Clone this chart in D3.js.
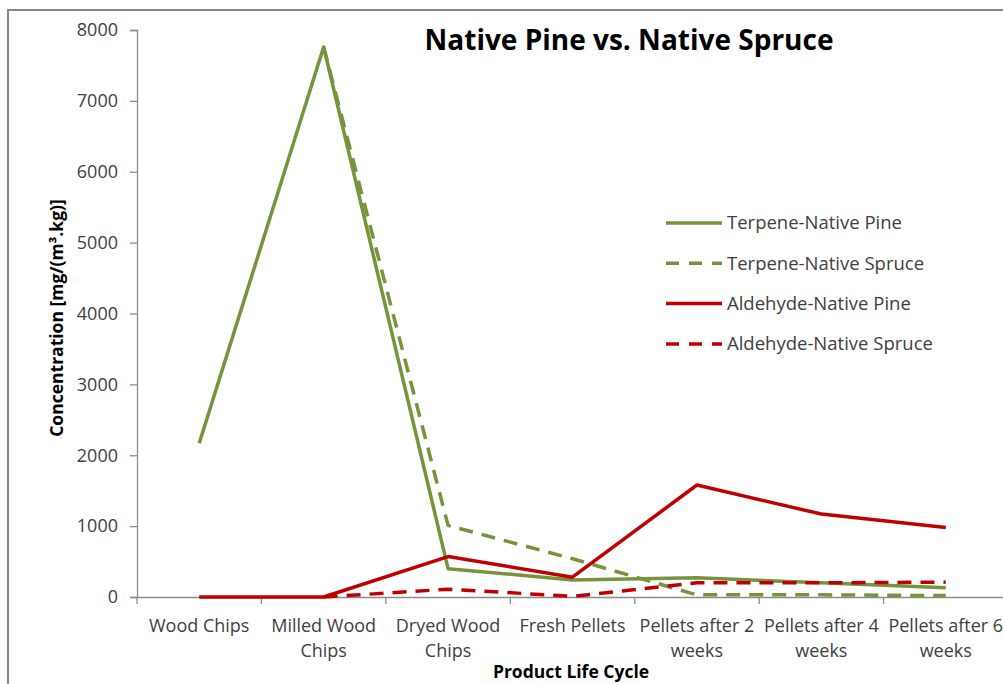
<!DOCTYPE html>
<html><head><meta charset="utf-8">
<script src="https://cdn.jsdelivr.net/npm/d3@7"></script>
<style>
body{margin:0;background:#fff;}
svg{display:block;font-family:"Open Sans",sans-serif;}
</style></head>
<body><svg id="c" width="1003" height="684"></svg>
<script>
const categories = ["Wood Chips","Milled Wood Chips","Dryed Wood Chips","Fresh Pellets","Pellets after 2 weeks","Pellets after 4 weeks","Pellets after 6 weeks"];
const terpenePine    = [2170, 7760, 400, 240, 270, 200, 130];
const terpeneSpruce  = [null, 7760, 1010, 540, 30, 30, 20];
const aldehydePine   = [0, 0, 570, 280, 1580, 1170, 980];
const aldehydeSpruce = [null, 0, 110, 10, 200, 200, 210];
const seriesNames = ["Terpene-Native Pine","Terpene-Native Spruce","Aldehyde-Native Pine","Aldehyde-Native Spruce"];
const yTicks = [0,1000,2000,3000,4000,5000,6000,7000,8000];

const GREEN="#77933C", RED="#C00000", AX="#8c8c8c", TXT="#404040";
const series = [
  {name:seriesNames[0], values:terpenePine, color:GREEN, dash:null},
  {name:seriesNames[1], values:terpeneSpruce, color:GREEN, dash:"14,9"},
  {name:seriesNames[2], values:aldehydePine, color:RED, dash:null},
  {name:seriesNames[3], values:aldehydeSpruce, color:RED, dash:"14,9"}
];

const svg = d3.select("#c");
const L=137, R=1008, T=30, B=597;
const x = d3.scaleBand().domain(categories).range([L,R]);
const y = d3.scaleLinear().domain([0,8000]).range([B,T]);

// outer border
svg.append("rect").attr("x",8).attr("y",10).attr("width",1010).attr("height",700)
  .attr("fill","none").attr("stroke","#868686").attr("stroke-width",2);

// y axis
const ya = svg.append("g").attr("transform",`translate(${L},0)`)
  .call(d3.axisLeft(y).tickValues(yTicks).tickSize(7).tickPadding(12).tickFormat(d3.format("d")));
ya.select(".domain").attr("stroke",AX).attr("stroke-width",1.3);
ya.selectAll(".tick line").attr("stroke",AX).attr("stroke-width",1.3);
ya.selectAll("text").attr("font-size",18).attr("fill",TXT).attr("font-family","Open Sans");

// x axis
const xa = svg.append("g").attr("transform",`translate(0,${B})`)
  .call(d3.axisBottom(x).tickSize(0).tickFormat(""));
xa.select(".domain").attr("stroke",AX).attr("stroke-width",1.3);
xa.selectAll(".tick").remove();
const bounds = categories.map((c,i)=>x(c)).concat([R]);
xa.selectAll("line.bt").data(bounds).enter().append("line").attr("class","bt")
  .attr("x1",d=>d).attr("x2",d=>d).attr("y1",0).attr("y2",7).attr("stroke",AX).attr("stroke-width",1.3);

// x labels with wrapping
const maxW = x.bandwidth();
const lab = svg.append("g").attr("font-size",18).attr("fill",TXT).attr("text-anchor","middle");
categories.forEach(c=>{
  const t = lab.append("text").attr("x",x(c)+x.bandwidth()/2).attr("y",632);
  const words = c.split(" ");
  let lines=[], cur="";
  const probe = lab.append("text").attr("visibility","hidden");
  words.forEach(w=>{
    const test = cur?cur+" "+w:w;
    probe.text(test);
    if(probe.node().getComputedTextLength()>maxW && cur){lines.push(cur);cur=w;} else cur=test;
  });
  lines.push(cur); probe.remove();
  lines.forEach((ln,i)=>t.append("tspan").attr("x",x(c)+x.bandwidth()/2).attr("dy",i?25:0).text(ln));
});

// lines
const line = d3.line().defined(d=>d.v!=null).x(d=>x(d.c)+x.bandwidth()/2).y(d=>y(d.v));
series.forEach(s=>{
  svg.append("path").datum(categories.map((c,i)=>({c,v:s.values[i]})))
    .attr("d",line).attr("fill","none").attr("stroke",s.color).attr("stroke-width",3.5)
    .attr("stroke-dasharray",s.dash).attr("stroke-linejoin","round");
});

// title
svg.append("text").attr("x",629).attr("y",50).attr("text-anchor","middle")
  .attr("font-size",28).attr("font-weight","bold").attr("fill","#000").text("Native Pine vs. Native Spruce");

// axis titles
svg.append("text").attr("transform","translate(63,318) rotate(-90)").attr("text-anchor","middle")
  .attr("font-size",17.5).attr("font-weight","bold").attr("fill","#000").text("Concentration [mg/(m³.kg)]");
svg.append("text").attr("x",571).attr("y",678).attr("text-anchor","middle")
  .attr("font-size",17.5).attr("font-weight","bold").attr("fill","#000").text("Product Life Cycle");

// legend
const lg = svg.append("g");
series.forEach((s,i)=>{
  const yy = 223 + i*40.3;
  lg.append("line").attr("x1",666).attr("x2",722).attr("y1",yy).attr("y2",yy)
    .attr("stroke",s.color).attr("stroke-width",3.5).attr("stroke-dasharray",s.dash?"13,10":null);
  lg.append("text").attr("x",727).attr("y",yy).attr("dy","0.35em").attr("font-size",18.5)
    .attr("fill",TXT).text(s.name);
});
</script></body></html>
